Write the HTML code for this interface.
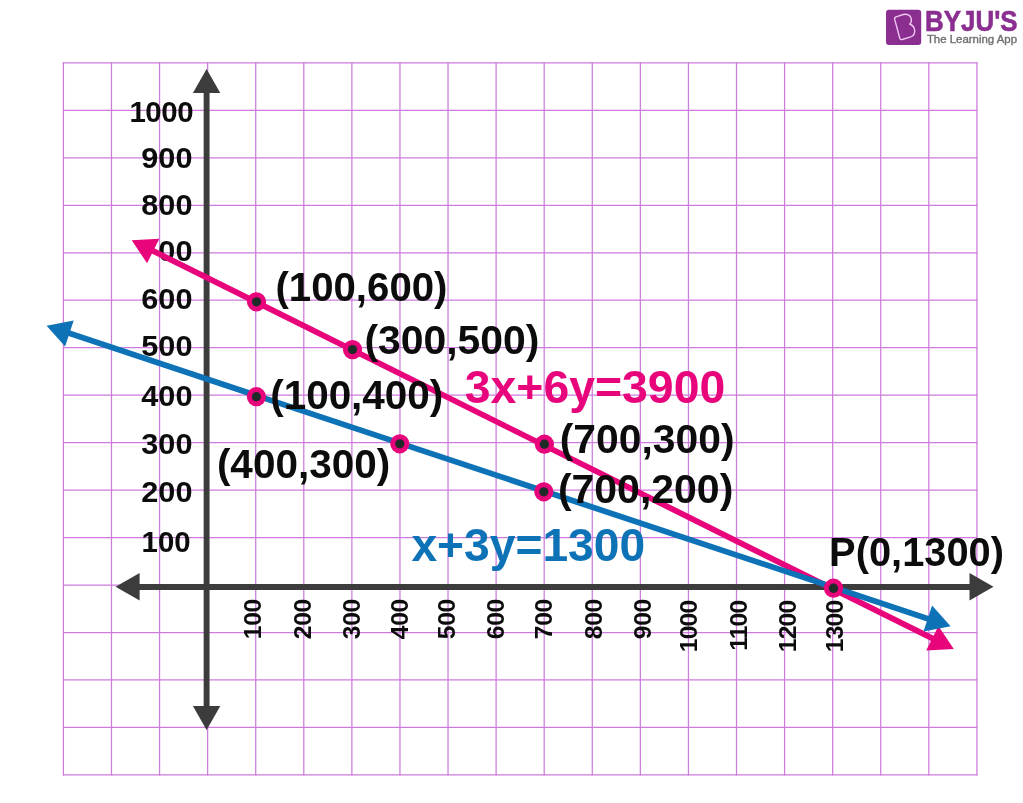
<!DOCTYPE html>
<html lang="en"><head><meta charset="utf-8"><title>Graph</title>
<style>html,body{margin:0;padding:0;background:#fff}svg{display:block}text{font-family:"Liberation Sans",Arial,Helvetica,sans-serif;font-weight:bold}</style></head><body>
<svg width="1023" height="803" viewBox="0 0 1023 803">
<rect width="1023" height="803" fill="#fff"/>
<g stroke="#cd7bdd" stroke-width="1.25" fill="none">
<line x1="63.40" y1="62.30" x2="63.40" y2="775.50"/>
<line x1="111.48" y1="62.30" x2="111.48" y2="775.50"/>
<line x1="159.56" y1="62.30" x2="159.56" y2="775.50"/>
<line x1="207.64" y1="62.30" x2="207.64" y2="775.50"/>
<line x1="255.72" y1="62.30" x2="255.72" y2="775.50"/>
<line x1="303.79" y1="62.30" x2="303.79" y2="775.50"/>
<line x1="351.87" y1="62.30" x2="351.87" y2="775.50"/>
<line x1="399.95" y1="62.30" x2="399.95" y2="775.50"/>
<line x1="448.03" y1="62.30" x2="448.03" y2="775.50"/>
<line x1="496.11" y1="62.30" x2="496.11" y2="775.50"/>
<line x1="544.19" y1="62.30" x2="544.19" y2="775.50"/>
<line x1="592.27" y1="62.30" x2="592.27" y2="775.50"/>
<line x1="640.35" y1="62.30" x2="640.35" y2="775.50"/>
<line x1="688.43" y1="62.30" x2="688.43" y2="775.50"/>
<line x1="736.51" y1="62.30" x2="736.51" y2="775.50"/>
<line x1="784.58" y1="62.30" x2="784.58" y2="775.50"/>
<line x1="832.66" y1="62.30" x2="832.66" y2="775.50"/>
<line x1="880.74" y1="62.30" x2="880.74" y2="775.50"/>
<line x1="928.82" y1="62.30" x2="928.82" y2="775.50"/>
<line x1="976.90" y1="62.30" x2="976.90" y2="775.50"/>
<line x1="62.80" y1="62.90" x2="977.50" y2="62.90"/>
<line x1="62.80" y1="110.37" x2="977.50" y2="110.37"/>
<line x1="62.80" y1="157.83" x2="977.50" y2="157.83"/>
<line x1="62.80" y1="205.30" x2="977.50" y2="205.30"/>
<line x1="62.80" y1="252.77" x2="977.50" y2="252.77"/>
<line x1="62.80" y1="300.23" x2="977.50" y2="300.23"/>
<line x1="62.80" y1="347.70" x2="977.50" y2="347.70"/>
<line x1="62.80" y1="395.17" x2="977.50" y2="395.17"/>
<line x1="62.80" y1="442.63" x2="977.50" y2="442.63"/>
<line x1="62.80" y1="490.10" x2="977.50" y2="490.10"/>
<line x1="62.80" y1="537.57" x2="977.50" y2="537.57"/>
<line x1="62.80" y1="585.03" x2="977.50" y2="585.03"/>
<line x1="62.80" y1="632.50" x2="977.50" y2="632.50"/>
<line x1="62.80" y1="679.97" x2="977.50" y2="679.97"/>
<line x1="62.80" y1="727.43" x2="977.50" y2="727.43"/>
<line x1="62.80" y1="774.90" x2="977.50" y2="774.90"/>
</g>
<g stroke="#3c3c3c" stroke-width="5.9">
<line x1="130" y1="587.0" x2="980" y2="587.0" stroke-width="6.2"/>
<line x1="206.6" y1="85" x2="206.6" y2="715"/>
</g>
<polygon fill="#3c3c3c" points="115.6,586.8 139.6,573.1 139.6,600.5"/>
<polygon fill="#3c3c3c" points="993.5,586.8 969.5,600.5 969.5,573.1"/>
<polygon fill="#3c3c3c" points="206.6,69.0 220.3,93.0 192.9,93.0"/>
<polygon fill="#3c3c3c" points="206.6,730.0 192.9,706.0 220.3,706.0"/>
<clipPath id="c7"><rect x="158.6" y="230" width="40" height="40"/></clipPath><g clip-path="url(#c7)">
<g fill="#0c0c0c" font-size="29.4" text-anchor="end">
<text x="192.5" y="260.7" textLength="51.2" lengthAdjust="spacingAndGlyphs">700</text>
</g>
</g>
<line stroke="#e8047b" stroke-width="5.8" x1="149.6" y1="249.2" x2="935.9" y2="640.1"/><polygon fill="#e8047b" points="131.7,240.3 159.3,238.7 147.1,263.3"/><polygon fill="#e8047b" points="953.8,649.0 926.2,650.6 938.4,626.0"/>
<line stroke="#0e72b7" stroke-width="5.8" x1="65.6" y1="332.1" x2="931.6" y2="619.9"/><polygon fill="#0e72b7" points="46.6,325.8 73.7,320.4 65.1,346.4"/><polygon fill="#0e72b7" points="950.6,626.2 923.5,631.6 932.1,605.6"/>
<g fill="#0c0c0c" font-size="29.4" text-anchor="end">
<text x="193.2" y="122.0" letter-spacing="-0.4">1000</text>
<text x="192.5" y="168.0" textLength="51.2" lengthAdjust="spacingAndGlyphs">900</text>
<text x="192.5" y="214.7" textLength="51.2" lengthAdjust="spacingAndGlyphs">800</text>
<text x="192.5" y="308.7" textLength="51.2" lengthAdjust="spacingAndGlyphs">600</text>
<text x="192.5" y="356.0" textLength="51.2" lengthAdjust="spacingAndGlyphs">500</text>
<text x="192.5" y="406.4" textLength="51.2" lengthAdjust="spacingAndGlyphs">400</text>
<text x="192.5" y="453.6" textLength="51.2" lengthAdjust="spacingAndGlyphs">300</text>
<text x="192.5" y="502.2" textLength="51.2" lengthAdjust="spacingAndGlyphs">200</text>
<text x="190.6" y="551.8">100</text>
</g>
<g fill="#0c0c0c" font-size="24.6" text-anchor="end" letter-spacing="-0.25">
<text transform="translate(260.8 599.0) rotate(-90)" x="0" y="0">100</text>
<text transform="translate(311.0 599.0) rotate(-90)" x="0" y="0">200</text>
<text transform="translate(359.7 599.0) rotate(-90)" x="0" y="0">300</text>
<text transform="translate(408.4 599.0) rotate(-90)" x="0" y="0">400</text>
<text transform="translate(455.1 599.0) rotate(-90)" x="0" y="0">500</text>
<text transform="translate(504.4 599.0) rotate(-90)" x="0" y="0">600</text>
<text transform="translate(552.2 599.0) rotate(-90)" x="0" y="0">700</text>
<text transform="translate(602.3 599.0) rotate(-90)" x="0" y="0">800</text>
<text transform="translate(650.7 599.0) rotate(-90)" x="0" y="0">900</text>
<text transform="translate(696.7 600.7) rotate(-90)" x="0" y="0" letter-spacing="-0.8">1000</text>
<text transform="translate(746.6 600.7) rotate(-90)" x="0" y="0" letter-spacing="-0.8">1100</text>
<text transform="translate(795.6 600.7) rotate(-90)" x="0" y="0" letter-spacing="-0.8">1200</text>
<text transform="translate(842.5 600.7) rotate(-90)" x="0" y="0" letter-spacing="-0.8">1300</text>
</g>
<circle cx="256.5" cy="301.8" r="9.6" fill="#e8047b"/><circle cx="256.5" cy="301.8" r="4.6" fill="#1f2b29"/>
<circle cx="352.5" cy="349.6" r="9.6" fill="#e8047b"/><circle cx="352.5" cy="349.6" r="4.6" fill="#1f2b29"/>
<circle cx="544.4" cy="444.2" r="9.6" fill="#e8047b"/><circle cx="544.4" cy="444.2" r="4.6" fill="#1f2b29"/>
<circle cx="256.4" cy="396.7" r="9.6" fill="#e8047b"/><circle cx="256.4" cy="396.7" r="4.6" fill="#1f2b29"/>
<circle cx="399.8" cy="443.8" r="9.6" fill="#e8047b"/><circle cx="399.8" cy="443.8" r="4.6" fill="#1f2b29"/>
<circle cx="543.8" cy="491.8" r="9.6" fill="#e8047b"/><circle cx="543.8" cy="491.8" r="4.6" fill="#1f2b29"/>
<circle cx="833.5" cy="588.2" r="9.6" fill="#e8047b"/><circle cx="833.5" cy="588.2" r="4.7" fill="#1f2b29"/>
<g fill="#0c0c0c" font-size="40.4" lengthAdjust="spacingAndGlyphs">
<text x="275.4" y="300.9" textLength="172.1" lengthAdjust="spacingAndGlyphs">(100,600)</text>
<text x="364.4" y="354.4" textLength="175.1" lengthAdjust="spacingAndGlyphs">(300,500)</text>
<text x="270.2" y="409.1" textLength="173.1" lengthAdjust="spacingAndGlyphs">(100,400)</text>
<text x="216.9" y="478.2" textLength="173.3" lengthAdjust="spacingAndGlyphs">(400,300)</text>
<text x="559.7" y="452.8" textLength="174.8" lengthAdjust="spacingAndGlyphs">(700,300)</text>
<text x="557.9" y="502.8" textLength="175.4" lengthAdjust="spacingAndGlyphs">(700,200)</text>
<text font-size="39.8" x="829.1" y="566.2" textLength="174.9" lengthAdjust="spacingAndGlyphs">P(0,1300)</text>
</g>
<text x="464.7" y="403.0" font-size="46.4" fill="#e8047b">3x+6y=3900</text>
<text x="411.4" y="561.4" font-size="46.2" fill="#0e72b7">x+3y=1300</text>
<g>
<rect x="886" y="9.7" width="35.2" height="35.2" rx="3" fill="#8a2e90"/>
<path d="M894.7 19.4 Q894.1 17.5 896 16.8 L903.4 14.5 C907 13.6 910.7 15 911.3 19 C911.7 21.4 910.9 23 909.7 24 C912.9 25.4 914.7 28 914.7 31 C914.7 34 913.3 36 910.8 36.9 L902.2 39.5 Q900.4 40 899.8 38.2 Z" fill="none" stroke="#efc6f0" stroke-width="1.4" stroke-linejoin="round"/>
<text x="925.0" y="31.4" font-size="29.4" fill="#8a2e90" stroke="#8a2e90" stroke-width="0.6" textLength="92.6" lengthAdjust="spacingAndGlyphs">BYJU'S</text>
<text x="926.9" y="43.4" font-size="10.2" fill="#707070" stroke="#707070" stroke-width="0.35" style="font-weight:normal" textLength="90.2" lengthAdjust="spacingAndGlyphs">The Learning App</text>
</g>
</svg></body></html>
